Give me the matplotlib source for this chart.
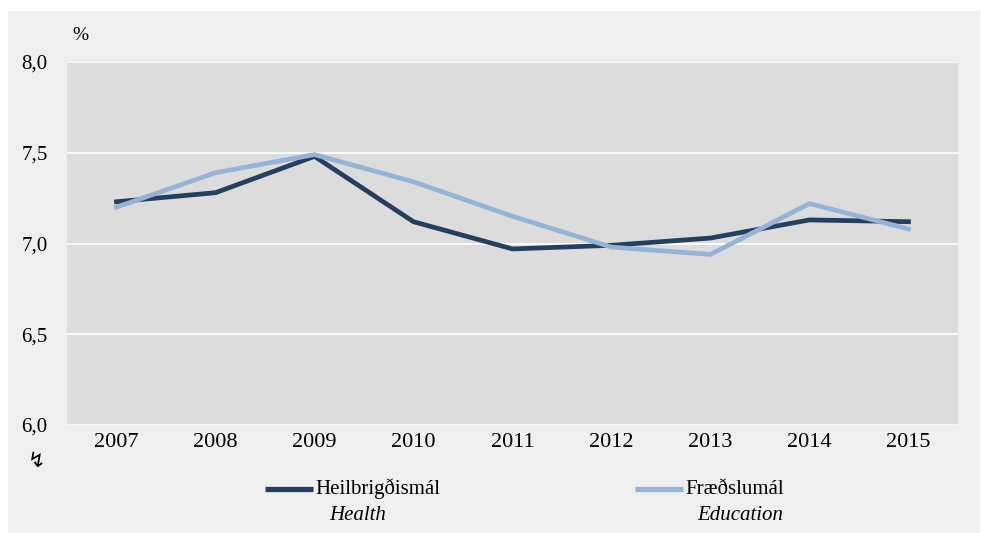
import matplotlib
matplotlib.use("Agg")
import matplotlib.pyplot as plt
from matplotlib.patches import Rectangle
from matplotlib.lines import Line2D

years = ["2007", "2008", "2009", "2010", "2011", "2012", "2013", "2014", "2015"]
health = [7.23, 7.28, 7.48, 7.12, 6.97, 6.99, 7.03, 7.13, 7.12]
education = [7.20, 7.39, 7.49, 7.34, 7.15, 6.98, 6.94, 7.22, 7.08]
yticks = [6.0, 6.5, 7.0, 7.5, 8.0]
ytick_labels = ["6,0", "6,5", "7,0", "7,5", "8,0"]
series_names = [("Heilbrigðismál", "Health"), ("Fræðslumál", "Education")]

dark = "#243f60"
light = "#95b3d7"
W, H = 981, 533

plt.rcParams["font.family"] = ["Liberation Serif", "DejaVu Sans"]
fig = plt.figure(figsize=(W / 100, H / 100), dpi=100)
fig.patch.set_facecolor("white")
fig.add_artist(Rectangle((8 / W, 0), (980 - 8) / W, (533 - 11) / H,
                         transform=fig.transFigure, facecolor="#efefef",
                         edgecolor="none", zorder=0))

ax = fig.add_axes([67 / W, (H - 425) / H, (958 - 67) / W, (425 - 62) / H])
ax.set_facecolor("#dcdcdc")
x = list(range(len(years)))
ax.plot(x, health, color=dark, lw=3.4, solid_joinstyle="miter", zorder=3)
ax.plot(x, education, color=light, lw=3.4, solid_joinstyle="miter", zorder=3)
ax.set_xlim(-0.5, len(years) - 0.5)
ax.set_ylim(6.0, 8.0)
ax.set_yticks(yticks)
ax.set_yticklabels(ytick_labels, fontsize=15)
ax.set_xticks(x)
ax.set_xticklabels(years, fontsize=16)
ax.tick_params(length=0)
ax.tick_params(axis="y", pad=14)
ax.tick_params(axis="x", pad=6)
ax.grid(axis="y", color="white", lw=1.2)
ax.set_axisbelow(True)
for s in ax.spines.values():
    s.set_visible(False)

fig.text(72 / W, 1 - 36 / H, "%", fontsize=14, va="center", ha="left")
fig.text(37 / W, 1 - 461 / H, "↯", fontsize=15, va="center", ha="center",
         family="DejaVu Sans")

# legend
for (name, en), col, x0 in zip(series_names, [dark, light], [265, 635]):
    fig.add_artist(Line2D([x0 / W, (x0 + 48) / W], [1 - 489 / H, 1 - 489 / H],
                          transform=fig.transFigure, color=col, lw=3.8,
                          solid_capstyle="butt"))
    fig.text((x0 + 50) / W, 1 - 489 / H, name, fontsize=15, va="center", ha="left")

fig.text(358 / W, 1 - 515 / H, "Health", fontsize=15, style="italic",
         va="center", ha="center")
fig.text(740 / W, 1 - 515 / H, "Education", fontsize=15, style="italic",
         va="center", ha="center")

fig.savefig("out.png", dpi=100, facecolor=fig.get_facecolor())
